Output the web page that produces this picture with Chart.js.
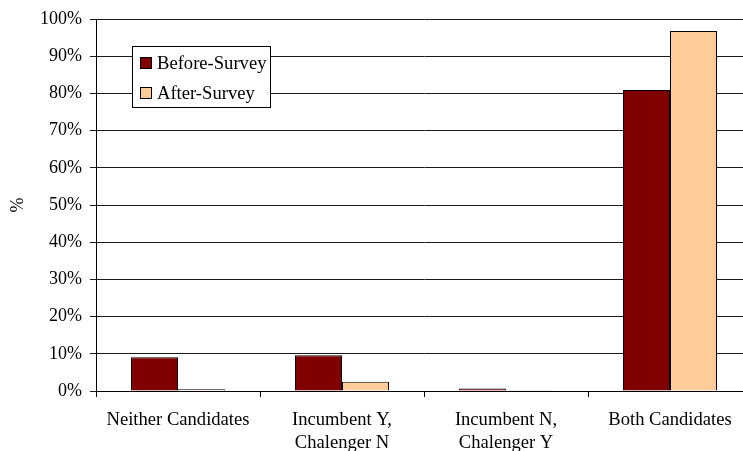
<!DOCTYPE html>
<html>
<head>
<meta charset="utf-8">
<script src="https://cdn.jsdelivr.net/npm/chart.js@4/dist/chart.umd.min.js"></script>
<style>
  html, body { margin: 0; padding: 0; background: #fff; overflow: hidden; }
  #wrap { width: 760px; height: 451px; }
</style>
</head>
<body>
<div id="wrap"><canvas id="chart" width="760" height="451"></canvas></div>
<script>
// Share of respondents recognising the candidates, before and after the survey
const categories = [
  "Neither Candidates",
  ["Incumbent Y,", "Chalenger N"],
  ["Incumbent N,", "Chalenger Y"],
  "Both Candidates"
];
const seriesNames = ["Before-Survey", "After-Survey"];
const beforeSurvey = [9.1, 9.6, 0.7, 80.9];
const afterSurvey = [0.45, 2.5, 0.2, 96.8];
const yTicks = [0, 10, 20, 30, 40, 50, 60, 70, 80, 90, 100];

const FONT = "'Liberation Serif', 'Times New Roman', serif";
const colors = ["#800000", "#FFCC99"];

// Boxed legend sitting inside the plot area, upper left
const boxLegend = {
  id: "boxLegend",
  afterDraw(chart) {
    const ctx = chart.ctx;
    ctx.save();
    const x = 132.5, y = 46.5, w = 138, h = 61;
    ctx.fillStyle = "#fff";
    ctx.fillRect(x, y, w, h);
    ctx.strokeStyle = "#000";
    ctx.lineWidth = 1;
    ctx.strokeRect(x, y, w, h);
    ctx.font = "18.6px " + FONT;
    ctx.textBaseline = "middle";
    chart.data.datasets.forEach((ds, i) => {
      const cy = 63 + i * 30;
      ctx.fillStyle = ds.backgroundColor;
      ctx.fillRect(140.5, cy - 5.5, 11, 11);
      ctx.strokeStyle = "#000";
      ctx.strokeRect(140.5, cy - 5.5, 11, 11);
      ctx.fillStyle = "#000";
      ctx.fillText(ds.label, 157, cy + 1);
    });
    ctx.restore();
  }
};

new Chart(document.getElementById("chart"), {
  type: "bar",
  data: {
    labels: categories,
    datasets: [
      { label: seriesNames[0], data: beforeSurvey, backgroundColor: colors[0], borderColor: "#000", borderWidth: 1 },
      { label: seriesNames[1], data: afterSurvey, backgroundColor: colors[1], borderColor: "#000", borderWidth: 1 }
    ]
  },
  options: {
    responsive: false,
    animation: false,
    layout: { padding: { top: 19, right: 8, left: 0, bottom: 0 } },
    datasets: { bar: { categoryPercentage: 0.573, barPercentage: 1 } },
    plugins: { legend: { display: false }, tooltip: { enabled: false } },
    scales: {
      x: {
        offset: true,
        grid: { offset: true, drawOnChartArea: false, drawTicks: true, tickLength: 6, color: "#000" },
        border: { color: "#000", width: 1 },
        ticks: { color: "#000", padding: 12, maxRotation: 0, autoSkip: false, font: { family: FONT, size: 18.6, lineHeight: 1.24 } },
        afterFit(scale) { scale.height = 60; }
      },
      y: {
        min: 0,
        max: 100,
        afterBuildTicks(scale) { scale.ticks = yTicks.map(v => ({ value: v })); },
        grid: { color: "#1a1a1a", lineWidth: 1, tickLength: 6 },
        border: { color: "#000", width: 1 },
        ticks: { color: "#000", padding: 8, callback: v => v + "%", font: { family: FONT, size: 18 } },
        title: { display: true, text: "%", color: "#000", padding: { top: 7, bottom: 0 }, font: { family: FONT, size: 18 } },
        afterFit(scale) { scale.width = 96; }
      }
    }
  },
  plugins: [boxLegend]
});
</script>
</body>
</html>
